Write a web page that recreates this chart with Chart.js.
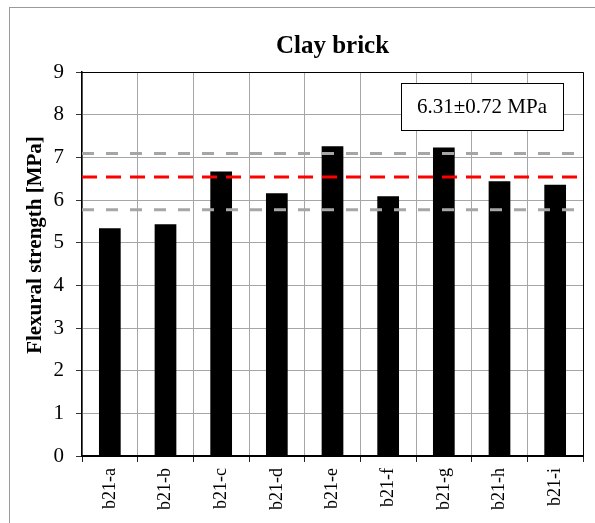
<!DOCTYPE html>
<html>
<head>
<meta charset="utf-8">
<script src="https://cdn.jsdelivr.net/npm/chart.js@4"></script>
<style>
  html, body { margin: 0; padding: 0; background: #fff; }
  #wrap { width: 595px; height: 523px; position: relative; }
</style>
</head>
<body>
<div id="wrap"><canvas id="chart" width="595" height="523"></canvas></div>
<script>
// Specimen labels and flexural strength values (MPa)
const samples = ['b21-a', 'b21-b', 'b21-c', 'b21-d', 'b21-e', 'b21-f', 'b21-g', 'b21-h', 'b21-i'];
const strength = [5.34, 5.43, 6.67, 6.16, 7.26, 6.09, 7.23, 6.44, 6.36];

// Reference lines: mean (red) and mean ± std (grey)
const meanLine = [6.54];
const bandLines = [7.09, 5.77];
const summaryText = ['6.31±0.72 MPa'];
const yTitle = 'Flexural strength [MPa]';

const yTicks = [0, 1, 2, 3, 4, 5, 6, 7, 8, 9];

const serif = "'Liberation Serif', 'DejaVu Serif', serif";

// Outer frame (light grey, partially visible)
const framePlugin = {
    id: 'frame',
    beforeDraw(chart) {
        const ctx = chart.ctx;
        ctx.save();
        ctx.strokeStyle = '#9a9a9a';
        ctx.lineWidth = 1;
        ctx.strokeRect(9.5, 7.5, 800, 800);
        ctx.restore();
    }
};

// Top and right border of the plot area, plus the y axis title
const plotBorderPlugin = {
    id: 'plotBorder',
    afterDatasetsDraw(chart) {
        const { ctx, chartArea: a } = chart;
        ctx.save();
        ctx.strokeStyle = '#000';
        ctx.lineWidth = 1;
        ctx.beginPath();
        ctx.moveTo(a.left, a.top + 0.5);
        ctx.lineTo(a.right + 0.5, a.top + 0.5);
        ctx.lineTo(a.right + 0.5, a.bottom);
        ctx.stroke();

        // y title sits a little above the middle of the axis, like the original
        ctx.translate(36, (a.top + a.bottom) / 2 - 19);
        ctx.rotate(-Math.PI / 2);
        ctx.fillStyle = '#000';
        ctx.font = 'bold 21px ' + serif;
        ctx.textAlign = 'center';
        ctx.textBaseline = 'middle';
        ctx.fillText(yTitle, 0, 0);
        ctx.restore();
    }
};

// Dashed mean / band lines and the summary box
const refLinesPlugin = {
    id: 'refLines',
    afterDatasetsDraw(chart) {
        const { ctx, chartArea: a, scales: { y } } = chart;
        ctx.save();
        ctx.lineWidth = 3;

        ctx.strokeStyle = '#a6a6a6';
        ctx.setLineDash([12, 12]);
        bandLines.forEach(v => {
            const py = y.getPixelForValue(v);
            ctx.beginPath();
            ctx.moveTo(a.left, py);
            ctx.lineTo(a.right + 3, py);
            ctx.stroke();
        });

        ctx.strokeStyle = '#ff0000';
        ctx.setLineDash([15, 9]);
        meanLine.forEach(v => {
            const py = y.getPixelForValue(v);
            ctx.beginPath();
            ctx.moveTo(a.left, py);
            ctx.lineTo(a.right, py);
            ctx.stroke();
        });

        // summary box
        ctx.setLineDash([]);
        const bw = 162, bh = 47;
        const bx = a.right - 20 - bw, by = a.top + 11;
        ctx.fillStyle = '#fff';
        ctx.fillRect(bx, by, bw, bh);
        ctx.strokeStyle = '#000';
        ctx.lineWidth = 1;
        ctx.strokeRect(bx + 0.5, by + 0.5, bw, bh);
        ctx.fillStyle = '#000';
        ctx.font = '21px ' + serif;
        ctx.textAlign = 'center';
        ctx.textBaseline = 'middle';
        ctx.fillText(summaryText[0], bx + bw / 2, by + bh / 2 + 1);
        ctx.restore();
    }
};

new Chart(document.getElementById('chart'), {
    type: 'bar',
    data: {
        labels: samples,
        datasets: [{
            label: 'Flexural strength',
            data: strength,
            backgroundColor: '#000',
            borderWidth: 0,
            categoryPercentage: 1,
            barPercentage: 0.39
        }]
    },
    options: {
        responsive: false,
        animation: false,
        layout: { padding: { left: 0, right: 12, top: 0, bottom: 0 } },
        plugins: {
            legend: { display: false },
            tooltip: { enabled: false },
            title: {
                display: true,
                text: 'Clay brick',
                fullSize: false,
                color: '#000',
                font: { family: serif, size: 25, weight: 'bold' },
                padding: { top: 32, bottom: 10 }
            }
        },
        scales: {
            x: {
                offset: true,
                grid: {
                    offset: true,
                    color: '#a6a6a6',
                    tickColor: '#222',
                    tickLength: 6,
                    lineWidth: 1
                },
                border: { color: '#000', width: 2 },
                ticks: {
                    color: '#000',
                    font: { family: serif, size: 18 },
                    minRotation: 90,
                    maxRotation: 90,
                    padding: 6
                },
                afterFit(scale) { scale.height = 67; }
            },
            y: {
                min: 0,
                max: 9,
                grid: {
                    color: '#a6a6a6',
                    tickColor: '#333',
                    tickLength: 6,
                    lineWidth: 1
                },
                border: { color: '#000', width: 1.5 },
                ticks: {
                    stepSize: 1,
                    color: '#000',
                    font: { family: serif, size: 21 },
                    padding: 12,
                    callback: (v) => yTicks.includes(v) ? String(v) : ''
                },
                afterFit(scale) { scale.width = 82; }
            }
        }
    },
    plugins: [framePlugin, plotBorderPlugin, refLinesPlugin]
});
</script>
</body>
</html>
